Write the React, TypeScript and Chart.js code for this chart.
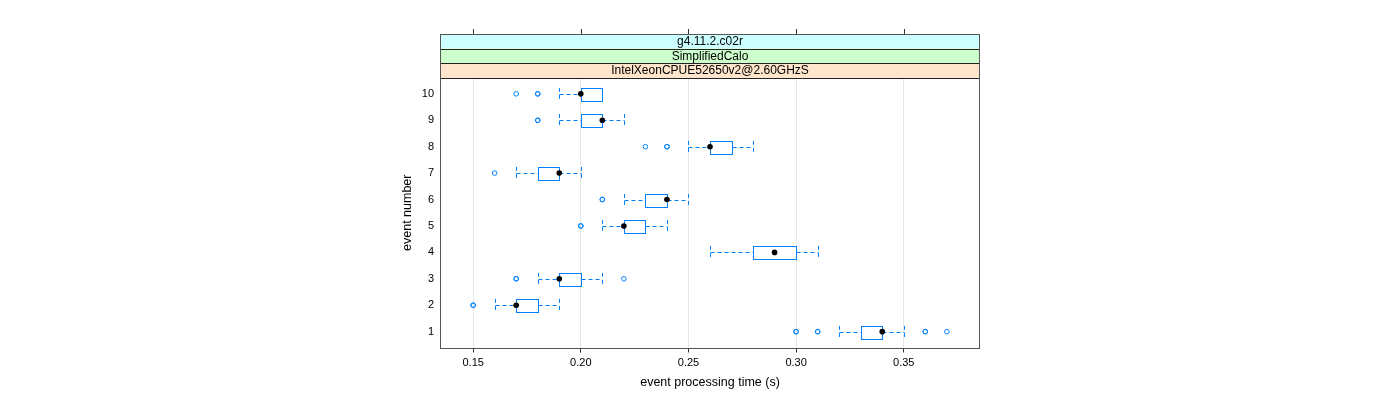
import React, { useEffect, useRef } from "react";
import { Chart, registerables } from "chart.js";

Chart.register(...registerables);

// ---- data ----
const events = [1, 2, 3, 4, 5, 6, 7, 8, 9, 10];
const whiskerLow = [0.32, 0.16, 0.18, 0.26, 0.21, 0.22, 0.17, 0.25, 0.19, 0.19];
const q1 = [0.33, 0.17, 0.19, 0.28, 0.22, 0.23, 0.18, 0.26, 0.2, 0.2];
const medians = [0.34, 0.17, 0.19, 0.29, 0.22, 0.24, 0.19, 0.26, 0.21, 0.2];
const q3 = [0.34, 0.18, 0.2, 0.3, 0.23, 0.24, 0.19, 0.27, 0.21, 0.21];
const whiskerHigh = [0.35, 0.19, 0.21, 0.31, 0.24, 0.25, 0.2, 0.28, 0.22, 0.21];
const outliers: number[][] = [
  [0.3, 0.3, 0.31, 0.31, 0.36, 0.36, 0.37],
  [0.15, 0.15],
  [0.17, 0.17, 0.22],
  [],
  [0.2, 0.2],
  [0.21, 0.21],
  [0.16],
  [0.23, 0.24, 0.24],
  [0.18, 0.18],
  [0.17, 0.18, 0.18],
];
const xTicks = [0.15, 0.2, 0.25, 0.3, 0.35];
const yTicks = [1, 2, 3, 4, 5, 6, 7, 8, 9, 10];
const stripLabels = ["g4.11.2.c02r", "SimplifiedCalo", "IntelXeonCPUE52650v2@2.60GHzS"];
const stripColors = ["#ccffff", "#ccffcc", "#ffe5cc"];
const xTitle = "event processing time (s)";
const yTitle = "event number";

const X_MIN = 0.1346;
const X_MAX = 0.3854;
const Y_MIN = 0.4;
const Y_MAX = 10.6;
const BOX_RATIO = 0.5;
const BLUE = "#0080ff";
const FONT = "'Liberation Sans', Arial, Helvetica, sans-serif";

const latticePlugin = {
  id: "lattice",
  beforeDatasetsDraw(chart: any) {
    const { ctx, scales } = chart;
    const x = scales.x;
    const y = scales.y;
    ctx.save();
    ctx.strokeStyle = BLUE;
    ctx.lineWidth = 1;
    for (let i = 0; i < events.length; i++) {
      const yc = Math.round(y.getPixelForValue(events[i])) + 0.5;
      const half = Math.abs(y.getPixelForValue(events[i] + BOX_RATIO / 2) - y.getPixelForValue(events[i]));
      const xl = Math.round(x.getPixelForValue(whiskerLow[i])) + 0.5;
      const x1 = Math.round(x.getPixelForValue(q1[i])) + 0.5;
      const x3 = Math.round(x.getPixelForValue(q3[i])) + 0.5;
      const xh = Math.round(x.getPixelForValue(whiskerHigh[i])) + 0.5;
      // whiskers (dashed)
      ctx.setLineDash([4, 3]);
      ctx.beginPath();
      if (xl < x1) {
        ctx.moveTo(xl, yc);
        ctx.lineTo(x1, yc);
        ctx.moveTo(xl, yc - half);
        ctx.lineTo(xl, yc + half);
      }
      if (xh > x3) {
        ctx.moveTo(x3, yc);
        ctx.lineTo(xh, yc);
        ctx.moveTo(xh, yc - half);
        ctx.lineTo(xh, yc + half);
      }
      ctx.stroke();
      // box
      ctx.setLineDash([]);
      ctx.strokeRect(x1, Math.round(yc - half) + 0.5, x3 - x1, Math.round(2 * half));
    }
    ctx.restore();
  },
  afterDraw(chart: any) {
    const { ctx, chartArea, scales } = chart;
    const x = scales.x;
    const { left, right, top, bottom } = chartArea;
    ctx.save();
    // strips
    const stripH = 14.67;
    const n = stripLabels.length;
    for (let k = 0; k < n; k++) {
      const sTop = top - (n - k) * stripH;
      ctx.fillStyle = stripColors[k];
      ctx.fillRect(left, sTop, right - left, stripH);
      ctx.strokeStyle = "#222";
      ctx.lineWidth = 1;
      ctx.strokeRect(left + 0.5, Math.round(sTop) + 0.5, right - left - 1, Math.round(stripH));
      ctx.fillStyle = "#000";
      ctx.font = `12px ${FONT}`;
      ctx.textAlign = "center";
      ctx.textBaseline = "middle";
      ctx.fillText(stripLabels[k], (left + right) / 2, sTop + stripH / 2 + 0.5);
    }
    // top ticks
    const stripsTop = Math.round(top - n * stripH);
    ctx.strokeStyle = "#333";
    ctx.beginPath();
    for (const t of xTicks) {
      const px = Math.round(x.getPixelForValue(t)) + 0.5;
      ctx.moveTo(px, stripsTop);
      ctx.lineTo(px, stripsTop - 5);
    }
    ctx.stroke();
    // panel border
    ctx.strokeStyle = "#555";
    ctx.strokeRect(left + 0.5, Math.round(stripsTop) + 0.5, right - left - 1, Math.round(bottom - stripsTop));
    // titles
    ctx.fillStyle = "#000";
    ctx.font = `12.5px ${FONT}`;
    ctx.textAlign = "center";
    ctx.textBaseline = "middle";
    ctx.fillText(xTitle, (left + right) / 2, 383);
    ctx.translate(408, (top + bottom) / 2);
    ctx.rotate(-Math.PI / 2);
    ctx.fillText(yTitle, 0, 0);
    ctx.restore();
  },
};

export default function App() {
  const ref = useRef<HTMLCanvasElement>(null);
  useEffect(() => {
    if (!ref.current) return;
    const outlierPts: { x: number; y: number }[] = [];
    outliers.forEach((arr, i) => arr.forEach((v) => outlierPts.push({ x: v, y: events[i] })));
    const medianPts = medians.map((m, i) => ({ x: m, y: events[i] }));
    const chart = new Chart(ref.current, {
      type: "scatter",
      data: {
        datasets: [
          {
            data: outlierPts,
            pointStyle: "circle",
            pointRadius: 2.3,
            borderColor: BLUE,
            backgroundColor: "rgba(0,0,0,0)",
            borderWidth: 1,
          },
          {
            data: medianPts,
            pointStyle: "circle",
            pointRadius: 2.8,
            borderColor: "#000",
            backgroundColor: "#000",
            borderWidth: 0,
          },
        ],
      },
      options: {
        responsive: false,
        animation: false,
        layout: { padding: { top: 78, right: 420, left: 0, bottom: 0 } },
        plugins: { legend: { display: false }, tooltip: { enabled: false } },
        scales: {
          x: {
            type: "linear",
            min: X_MIN,
            max: X_MAX,
            afterFit: (s: any) => {
              s.height = 52.5;
            },
            afterBuildTicks: (s: any) => {
              s.ticks = xTicks.map((v) => ({ value: v }));
            },
            ticks: {
              callback: (v: any) => Number(v).toFixed(2),
              font: { family: FONT, size: 11 },
              color: "#000",
              padding: 4,
              maxRotation: 0,
              autoSkip: false,
            },
            grid: { color: "#e6e6e6", tickColor: "#333", tickLength: 5, lineWidth: 1 },
            border: { display: false },
          },
          y: {
            type: "linear",
            min: Y_MIN,
            max: Y_MAX,
            afterFit: (s: any) => {
              s.width = 440;
            },
            afterBuildTicks: (s: any) => {
              s.ticks = yTicks.map((v) => ({ value: v }));
            },
            ticks: {
              callback: (v: any) => String(v),
              font: { family: FONT, size: 11 },
              color: "#000",
              padding: 6,
              autoSkip: false,
            },
            grid: { display: false, drawTicks: false },
            border: { display: false },
          },
        },
      },
      plugins: [latticePlugin],
    });
    return () => chart.destroy();
  }, []);
  return (
    <div style={{ position: "absolute", left: 0, top: 0, width: 1400, height: 400, background: "#fff" }}>
      <canvas ref={ref} width={1400} height={400} style={{ width: 1400, height: 400, display: "block" }} />
    </div>
  );
}
